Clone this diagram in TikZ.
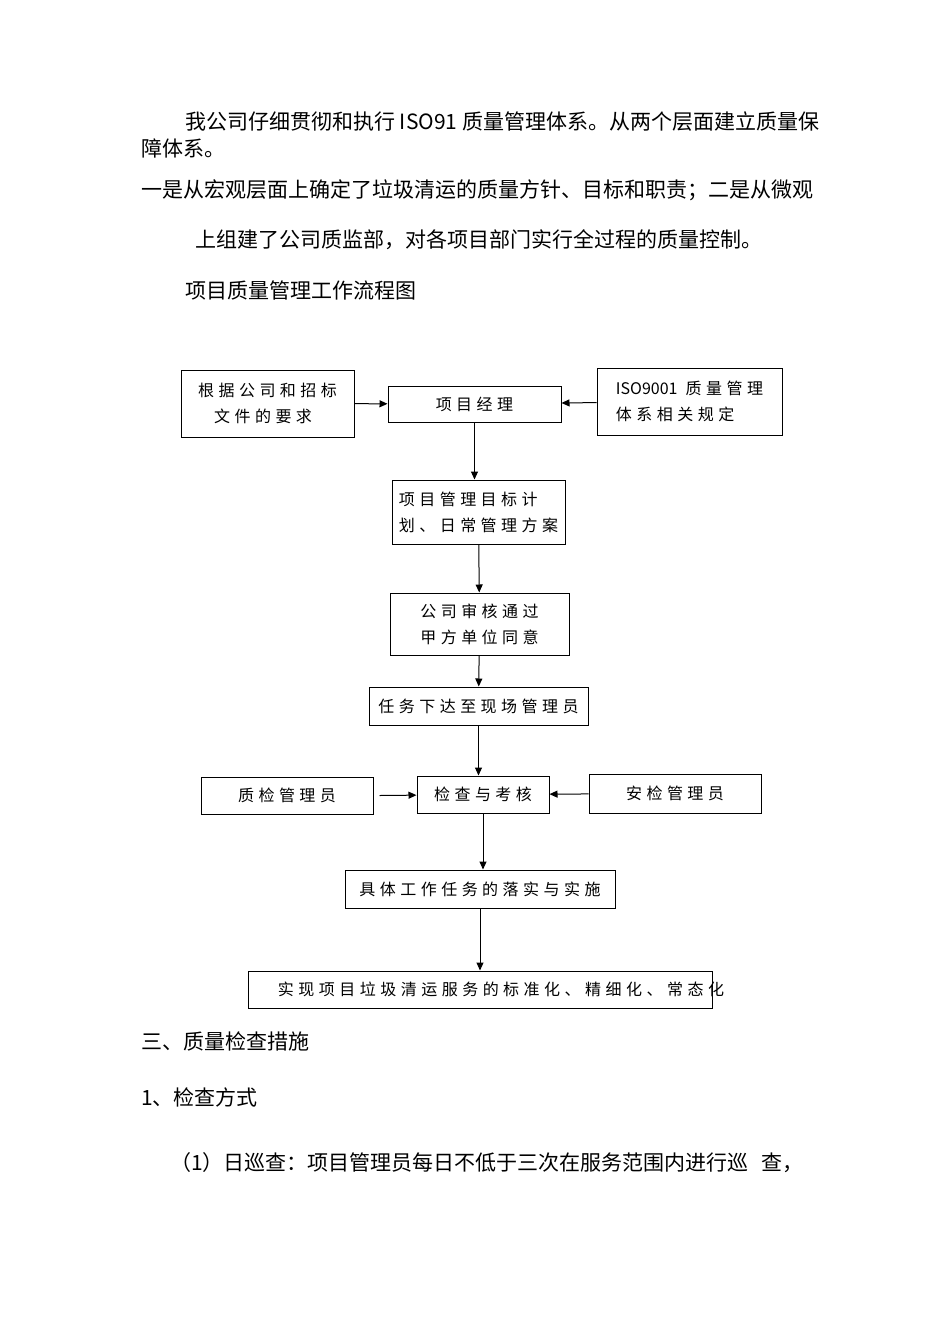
\documentclass[tikz,border=0pt]{standalone}
\usepackage{fontspec}
\setmainfont{Noto Sans CJK SC}
\usetikzlibrary{arrows.meta}
\begin{document}
\begin{tikzpicture}[x=1pt,y=-1pt,
  para/.style={anchor=west,inner sep=0,font=\fontsize{21}{24}\selectfont},
  box/.style={draw,line width=1pt,inner sep=0,font=\fontsize{16}{26}\selectfont\addfontfeature{LetterSpace=28},align=left},
  arr/.style={-{Triangle[length=8pt,width=7pt]},line width=1pt}]
\useasboundingbox (0,0) rectangle (950,1344);
\node[para] (p1) at (185,122) {我公司仔细贯彻和执行 ISO91 质量管理体系。从两个层面建立质量保};
\node[para] (p2) at (141,148) {障体系。};
\node[para] (p3) at (141,190) {一是从宏观层面上确定了垃圾清运的质量方针、目标和职责；二是从微观};
\node[para] (p4) at (195,240) {上组建了公司质监部，对各项目部门实行全过程的质量控制。};
\node[para] (p5) at (185,290) {项目质量管理工作流程图};
\node[para] (p6) at (141,1041) {三、质量检查措施};
\node[para] (p7) at (141,1097) {1、检查方式};
\node[para] (p8) at (170,1163) {（1）日巡查：项目管理员每日不低于三次在服务范围内进行巡\hspace{0.6em}查，};

\node[box,minimum width=173,minimum height=67] (a) at (267.5,403.5) {根据公司和招标\\\hspace*{1em}文件的要求};
\node[box,minimum width=173,minimum height=36] (pm) at (474.5,404) {项目经理};
\node[box,minimum width=185,minimum height=67] (iso) at (689.5,401.5) {{\addfontfeature{LetterSpace=0}ISO9001} 质量管理\\体系相关规定};
\node[box,minimum width=173,minimum height=64] (plan) at (478.5,512) {项目管理目标计\\划、日常管理方案};
\node[box,minimum width=179,minimum height=62] (aud) at (479.5,624) {公司审核通过\\甲方单位同意};
\node[box,minimum width=219,minimum height=38] (task) at (478.5,706) {任务下达至现场管理员};
\node[box,minimum width=172,minimum height=37] (q) at (287,795.5) {质检管理员};
\node[box,minimum width=132,minimum height=37] (chk) at (483,794.5) {检查与考核};
\node[box,minimum width=172,minimum height=39] (s) at (675,793.5) {安检管理员};
\node[box,minimum width=270,minimum height=38] (impl) at (480,889) {具体工作任务的落实与实施};
\node[box,minimum width=464,minimum height=37] (fin) at (480,989.5) {};
\node[box,draw=none] (fint) at (501,989.5) {实现项目垃圾清运服务的标准化、精细化、常态化};

\draw[arr] (a) -- (pm);
\draw[arr] (iso) -- (pm);
\draw[arr] (pm) -- (plan.north -| pm);
\draw[arr] (plan) -- (aud);
\draw[arr] (aud) -- (task);
\draw[arr] (task) -- (chk.north -| task);
\draw[arr] ([xshift=6pt]q.east) -- (chk);
\draw[arr] (s) -- (chk);
\draw[arr] (chk) -- (impl.north -| chk);
\draw[arr] (impl) -- (fin.north -| impl);
\end{tikzpicture}
\end{document}
